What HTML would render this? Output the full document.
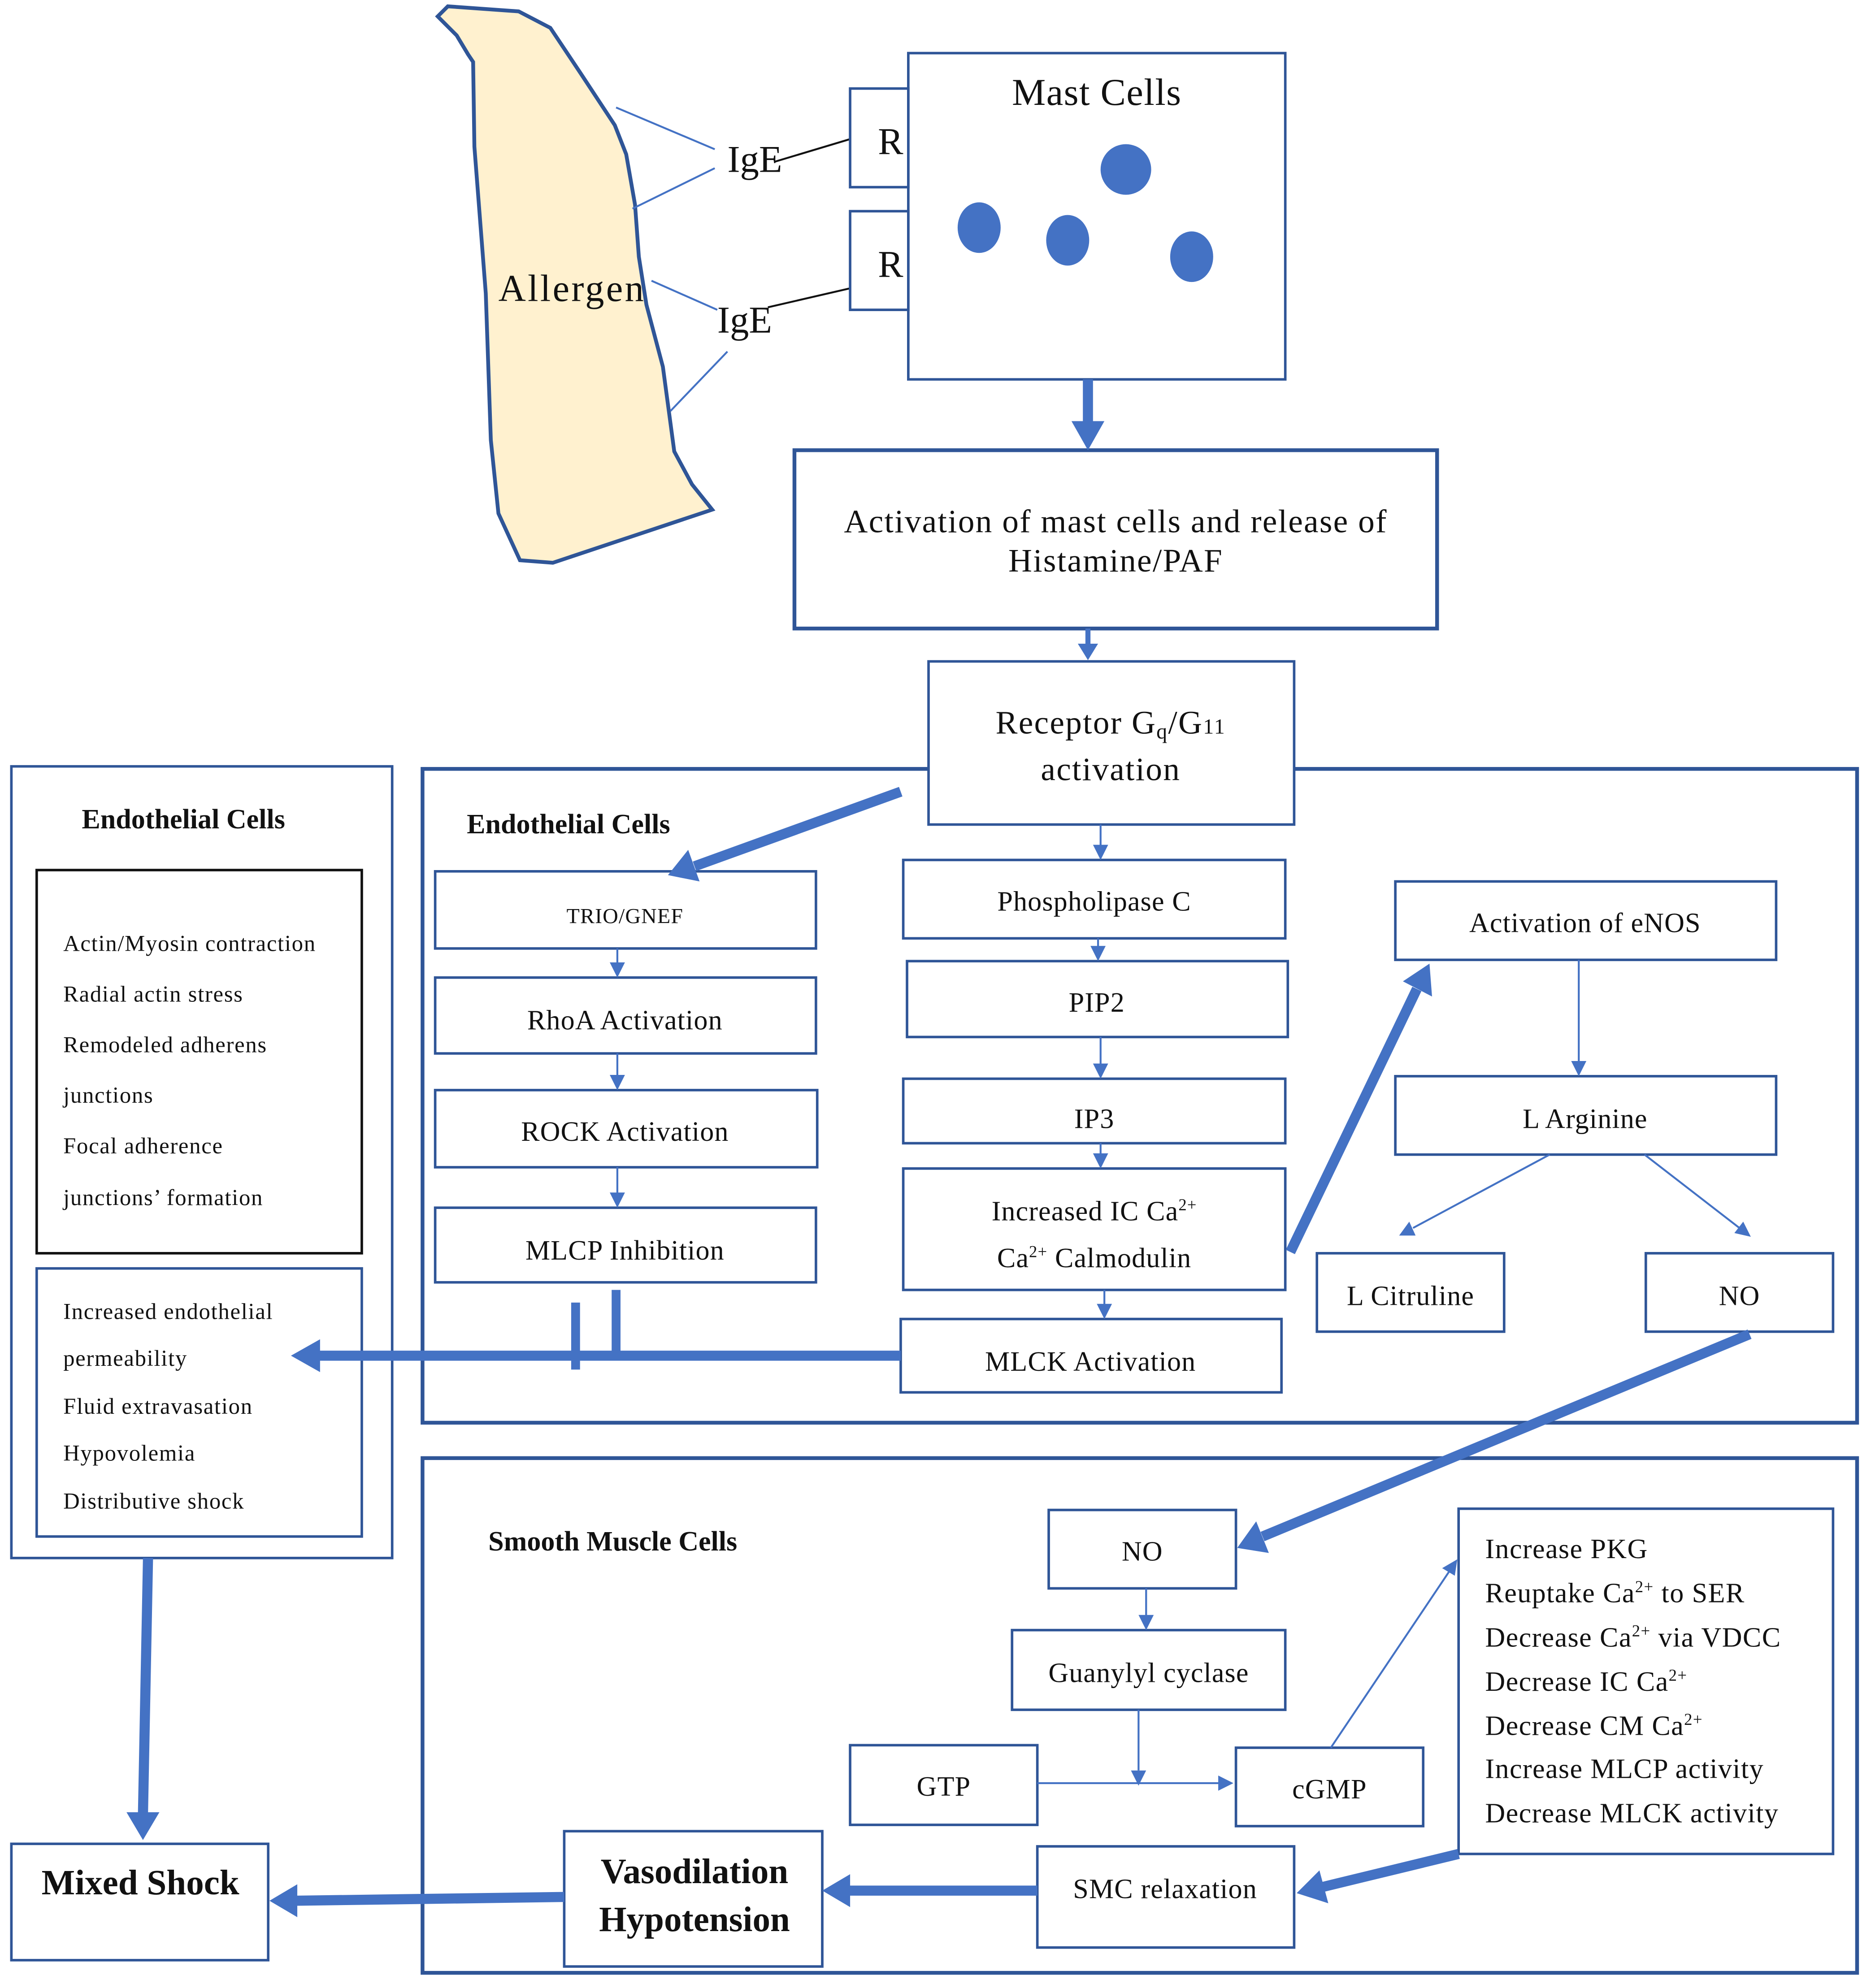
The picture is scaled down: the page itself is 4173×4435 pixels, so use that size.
<!DOCTYPE html>
<html><head><meta charset="utf-8"><style>
html,body{margin:0;padding:0;background:#fff;}
svg{display:block;}
text{font-family:"Liberation Serif",serif;fill:#111;}
</style></head><body>
<svg width="4173" height="4435" viewBox="0 0 1479 1572" preserveAspectRatio="none" xmlns="http://www.w3.org/2000/svg">
<g fill="none" stroke="#4472c4">
<!-- allergen -->
<path d="M346,13 L354,5 L410,9 L435,22 L459,58 L486,99 L495,122 L502,162 L505,203 L511,241 L524,290 L533,357 L547,383 L563,403 L437,445 L411,443 L394,406 L388,348 L384,232 L375,116 L374,49 L370,43 L361,28 Z" fill="#fff1cf" stroke="#2f5597" stroke-width="3"/>
<path d="M487,85 L565,118 M500,165 L565,133 M515,222 L567,245 M530,325 L575,278" stroke-width="1.5"/>
<path d="M612,128 L672,110 M607,243 L672,228" stroke="#111" stroke-width="1.5"/>
<g stroke="#2f5597" stroke-width="2">
<rect x="672" y="70" width="46" height="78"/>
<rect x="672" y="167" width="46" height="78"/>
<rect x="718" y="42" width="298" height="258"/>
<rect x="628" y="356" width="508" height="141" stroke-width="3"/>
<rect x="334" y="608" width="1134" height="517" stroke-width="3"/>
<rect x="9" y="606" width="301" height="626"/>
<rect x="29" y="1003" width="257" height="212"/>
<rect x="334" y="1153" width="1134" height="407" stroke-width="3"/>
<rect x="734" y="523" width="289" height="129" fill="#fff"/>
<rect x="344" y="689" width="301" height="61"/>
<rect x="344" y="773" width="301" height="60"/>
<rect x="344" y="862" width="302" height="61"/>
<rect x="344" y="955" width="301" height="59"/>
<rect x="714" y="680" width="302" height="62"/>
<rect x="717" y="760" width="301" height="60"/>
<rect x="714" y="853" width="302" height="51"/>
<rect x="714" y="924" width="302" height="96"/>
<rect x="712" y="1043" width="301" height="58"/>
<rect x="1103" y="697" width="301" height="62"/>
<rect x="1103" y="851" width="301" height="62"/>
<rect x="1041" y="991" width="148" height="62"/>
<rect x="1301" y="991" width="148" height="62"/>
<rect x="829" y="1194" width="148" height="62"/>
<rect x="800" y="1289" width="216" height="63"/>
<rect x="672" y="1380" width="148" height="63"/>
<rect x="977" y="1382" width="148" height="62"/>
<rect x="1153" y="1193" width="296" height="273"/>
<rect x="820" y="1460" width="203" height="80"/>
<rect x="446" y="1448" width="204" height="107"/>
<rect x="9" y="1458" width="203" height="92"/>
</g>
<rect x="29" y="688" width="257" height="303" stroke="#111" stroke-width="2"/>
<!-- thick lines -->
<g stroke-width="8">
<path d="M860,300 L860,334"/>
<path d="M712,626 L549,685"/>
<path d="M712,1072 L250,1072"/>
<path d="M1020,990 L1120,782"/>
<path d="M1383,1055 L998,1215"/>
<path d="M1153,1466 L1046,1492"/>
<path d="M820,1495 L670,1495"/>
<path d="M446,1500 L233,1503"/>
<path d="M117,1232 L113,1435"/>
<path d="M455,1030 L455,1083 M487,1020 L487,1070" stroke-width="7"/>
</g>
<g stroke-width="1.5">
<path d="M860,497 L860,511" stroke-width="4"/>
<path d="M488,750 L488,762 M488,833 L488,851 M488,923 L488,944"/>
<path d="M870,652 L870,669 M868,742 L868,749 M870,820 L870,842 M870,904 L870,913 M873,1020 L873,1032"/>
<path d="M1248,759 L1248,840 M1225,913 L1117,971 M1300,913 L1375,971"/>
<path d="M906,1256 L906,1278 M900,1352 L900,1400 M820,1410 L964,1410 M1052,1382 L1146,1242"/>
</g>
</g>
<g fill="#4472c4">
<ellipse cx="890" cy="134" rx="20" ry="20"/>
<ellipse cx="774" cy="180" rx="17" ry="20"/>
<ellipse cx="844" cy="190" rx="17" ry="20"/>
<ellipse cx="942" cy="203" rx="17" ry="20"/>
<!-- thick heads -->
<polygon points="847,333 873,333 860,356"/>
<polygon points="528,692 553,697 544,672"/>
<polygon points="230,1072 253,1059 253,1085"/>
<polygon points="1130,762 1132,788 1109,776"/>
<polygon points="978,1224 1003,1228 993,1203"/>
<polygon points="1025,1497 1050,1505 1043,1479"/>
<polygon points="650,1495 672,1482 672,1508"/>
<polygon points="213,1503 235,1490 235,1516"/>
<polygon points="113,1455 100,1433 126,1433"/>
<polygon points="860,522 852,509 868,509"/>
<!-- thin heads -->
<polygon points="488,773 482,761 494,761"/>
<polygon points="488,862 482,850 494,850"/>
<polygon points="488,955 482,943 494,943"/>
<polygon points="870,680 864,668 876,668"/>
<polygon points="868,760 862,748 874,748"/>
<polygon points="870,853 864,841 876,841"/>
<polygon points="870,924 864,912 876,912"/>
<polygon points="873,1043 867,1031 879,1031"/>
<polygon points="1248,851 1242,839 1254,839"/>
<polygon points="1106,977 1119,977 1114,966"/>
<polygon points="1384,978 1371,975 1378,966"/>
<polygon points="906,1289 900,1277 912,1277"/>
<polygon points="900,1412 894,1400 906,1400"/>
<polygon points="975,1410 963,1404 963,1416"/>
<polygon points="1152,1233 1150,1246 1140,1240"/>
</g>
<g font-size="30">
<text x="575" y="136">IgE</text>
<text x="567" y="263">IgE</text>
<text x="394" y="238" letter-spacing="1.5">Allergen</text>
<text x="704" y="122" text-anchor="middle">R</text>
<text x="704" y="219" text-anchor="middle">R</text>
<text x="867" y="83" text-anchor="middle" letter-spacing="0.5">Mast Cells</text>
</g>
<g font-size="26" text-anchor="middle" letter-spacing="0.8">
<text x="882" y="421">Activation of mast cells and release of</text>
<text x="882" y="452">Histamine/PAF</text>
<text x="878" y="580">Receptor G<tspan font-size="17" dy="4">q</tspan><tspan dy="-4">/G</tspan><tspan font-size="17">11</tspan></text>
<text x="878" y="617">activation</text>
</g>
<g font-size="22" font-weight="bold">
<text x="145" y="655" text-anchor="middle">Endothelial Cells</text>
<text x="369" y="659">Endothelial Cells</text>
<text x="386" y="1226">Smooth Muscle Cells</text>
</g>
<g font-size="18" letter-spacing="0.6">
<text x="50" y="752">Actin/Myosin contraction</text>
<text x="50" y="792">Radial actin stress</text>
<text x="50" y="832">Remodeled adherens</text>
<text x="50" y="872">junctions</text>
<text x="50" y="912">Focal adherence</text>
<text x="50" y="953">junctions’ formation</text>
<text x="50" y="1043">Increased endothelial</text>
<text x="50" y="1080">permeability</text>
<text x="50" y="1118">Fluid extravasation</text>
<text x="50" y="1155">Hypovolemia</text>
<text x="50" y="1193">Distributive shock</text>
</g>
<g font-size="22" text-anchor="middle" letter-spacing="0.4">
<text x="494" y="730" font-size="17">TRIO/GNEF</text>
<text x="494" y="814">RhoA Activation</text>
<text x="494" y="902">ROCK Activation</text>
<text x="494" y="996">MLCP Inhibition</text>
<text x="865" y="720">Phospholipase C</text>
<text x="867" y="800">PIP2</text>
<text x="865" y="892">IP3</text>
<text x="865" y="965">Increased IC Ca<tspan font-size="13" dy="-8">2+</tspan></text>
<text x="865" y="1002">Ca<tspan font-size="13" dy="-8">2+</tspan><tspan dy="8"> Calmodulin</tspan></text>
<text x="862" y="1084">MLCK Activation</text>
<text x="1253" y="737">Activation of eNOS</text>
<text x="1253" y="892">L Arginine</text>
<text x="1115" y="1032">L Citruline</text>
<text x="1375" y="1032">NO</text>
<text x="903" y="1234">NO</text>
<text x="908" y="1330">Guanylyl cyclase</text>
<text x="746" y="1420">GTP</text>
<text x="1051" y="1422">cGMP</text>
<text x="921" y="1501">SMC relaxation</text>
</g>
<g font-size="22" letter-spacing="0.5">
<text x="1174" y="1232">Increase PKG</text>
<text x="1174" y="1267">Reuptake Ca<tspan font-size="13" dy="-8">2+</tspan><tspan dy="8"> to SER</tspan></text>
<text x="1174" y="1302">Decrease Ca<tspan font-size="13" dy="-8">2+</tspan><tspan dy="8"> via VDCC</tspan></text>
<text x="1174" y="1337">Decrease IC Ca<tspan font-size="13" dy="-8">2+</tspan></text>
<text x="1174" y="1372">Decrease CM Ca<tspan font-size="13" dy="-8">2+</tspan></text>
<text x="1174" y="1406">Increase MLCP activity</text>
<text x="1174" y="1441">Decrease MLCK activity</text>
</g>
<g font-size="28" font-weight="bold" text-anchor="middle">
<text x="549" y="1489">Vasodilation</text>
<text x="549" y="1527">Hypotension</text>
<text x="111" y="1498">Mixed Shock</text>
</g>
</svg>
</body></html>
